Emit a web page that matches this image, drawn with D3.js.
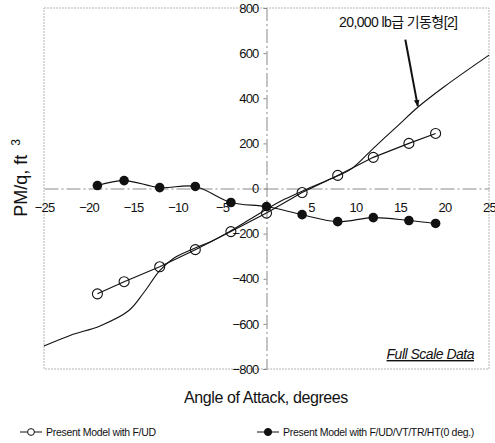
<!DOCTYPE html>
<html>
<head>
<meta charset="utf-8">
<script src="https://cdn.jsdelivr.net/npm/d3@7"></script>
<style>
  html, body { margin: 0; padding: 0; background: #fff; }
  svg { display: block; font-family: "Liberation Sans", Arial, sans-serif; }
</style>
</head>
<body>
<svg id="chart" width="495" height="443"></svg>
<script>
// Pitching moment vs. angle of attack
const alphaModel = [-19, -16, -12, -8, -4, 0, 4, 8, 12, 16, 19];
const pmBodyOnly = [-467, -413, -347, -271, -191, -109, -18, 58, 138, 200, 244];
const pmFullConfig = [13, 35, 4, 9, -62, -80, -116, -147, -129, -142, -155];

const alphaRef = [-25, -22, -18.7, -15.5, -13.8, -12, -10.5, -8.2, -6, -4, -2, 0, 2, 4, 6, 8, 9.5, 12, 14.8, 17, 20, 25];
const pmRef = [-698, -650, -609, -542, -462, -364, -311, -267, -230, -187, -140, -92, -48, -12, 22, 56, 86, 178, 280, 360, 452, 591];

const xTicks = [-25, -20, -15, -10, -5, 5, 10, 15, 20, 25];
const yTicks = [800, 600, 400, 200, 0, -200, -400, -600, -800];

const seriesLabels = ["Present Model with F/UD", "Present Model with F/UD/VT/TR/HT(0 deg.)"];
const refLabel = "20,000 lb급 기동형[2]";
const noteLabel = "Full Scale Data";

const svg = d3.select("#chart");
const x = d3.scaleLinear().domain([-25, 25]).range([44, 489]);
const y = d3.scaleLinear().domain([-800, 800]).range([369, 8]);

const axisGray = "#8a8a8a";

// plot frame
svg.append("rect")
  .attr("x", x(-25)).attr("y", y(800))
  .attr("width", x(25) - x(-25)).attr("height", y(-800) - y(800))
  .attr("fill", "none").attr("stroke", "#b5b5b5").attr("stroke-width", 1)
  .attr("stroke-dasharray", "2,1");

// axes crossing at the origin
const xAxis = d3.axisBottom(x).tickValues(xTicks).tickSize(0).tickFormat(d => d < 0 ? "\u2212" + Math.abs(d) : d);
const gx = svg.append("g").attr("transform", `translate(0,${y(0)})`).call(xAxis);
gx.select(".domain").attr("stroke", axisGray).attr("stroke-dasharray", "14,3,2,3");
gx.selectAll("text").attr("font-size", 13).attr("letter-spacing", "-0.8").attr("fill", "#111").attr("dy", "1.55em");

const yAxis = d3.axisLeft(y).tickValues(yTicks).tickSize(3).tickPadding(5).tickFormat(d => d < 0 ? "\u2212" + Math.abs(d) : d);
const gy = svg.append("g").attr("transform", `translate(${x(0)},0)`).call(yAxis);
gy.select(".domain").attr("stroke", axisGray).attr("stroke-dasharray", "14,3,2,3");
gy.selectAll(".tick line").attr("stroke", axisGray);
gy.selectAll("text").attr("font-size", 13).attr("letter-spacing", "-0.8").attr("fill", "#111");

// reference full-scale curve
const refLine = d3.line().x(d => x(d[0])).y(d => y(d[1])).curve(d3.curveCatmullRom);
svg.append("path")
  .datum(alphaRef.map((a, i) => [a, pmRef[i]]))
  .attr("d", refLine).attr("fill", "none").attr("stroke", "#111").attr("stroke-width", 1.1);

// body-only model
const bodyPts = alphaModel.map((a, i) => [a, pmBodyOnly[i]]);
svg.append("path")
  .datum(bodyPts)
  .attr("d", d3.line().x(d => x(d[0])).y(d => y(d[1])))
  .attr("fill", "none").attr("stroke", "#111").attr("stroke-width", 1.1);

// full configuration model
const fullPts = alphaModel.map((a, i) => [a, pmFullConfig[i]]);
svg.append("path")
  .datum(fullPts)
  .attr("d", d3.line().x(d => x(d[0])).y(d => y(d[1])).curve(d3.curveCatmullRom))
  .attr("fill", "none").attr("stroke", "#111").attr("stroke-width", 1.1);

svg.append("g").selectAll("circle").data(bodyPts).join("circle")
  .attr("cx", d => x(d[0])).attr("cy", d => y(d[1])).attr("r", 5)
  .attr("fill", "none").attr("stroke", "#111").attr("stroke-width", 1.1);

svg.append("g").selectAll("circle").data(fullPts).join("circle")
  .attr("cx", d => x(d[0])).attr("cy", d => y(d[1])).attr("r", 4.8)
  .attr("fill", "#111");

// annotation with arrow pointing at the reference curve
svg.append("defs").append("marker")
  .attr("id", "arrowhead").attr("viewBox", "0 0 10 10")
  .attr("refX", 9).attr("refY", 5).attr("markerWidth", 7).attr("markerHeight", 9)
  .attr("orient", "auto").attr("markerUnits", "userSpaceOnUse")
  .append("path").attr("d", "M0,1 L10,5 L0,9 Z").attr("fill", "#111");

svg.append("line")
  .attr("x1", x(15.6)).attr("y1", y(660))
  .attr("x2", x(17)).attr("y2", y(365))
  .attr("stroke", "#111").attr("stroke-width", 2)
  .attr("marker-end", "url(#arrowhead)");

svg.append("text")
  .attr("x", x(14.8)).attr("y", y(718))
  .attr("text-anchor", "middle").attr("font-size", 14).attr("letter-spacing", "-0.6")
  .attr("font-family", "'Liberation Sans', 'Noto Sans CJK KR', sans-serif")
  .attr("fill", "#111").text(refLabel);

svg.append("text")
  .attr("x", 474).attr("y", 359)
  .attr("text-anchor", "end").attr("font-size", 14).attr("font-style", "italic")
  .attr("text-decoration", "underline").attr("letter-spacing", "-0.5")
  .attr("fill", "#111").text(noteLabel);

// axis titles
svg.append("text")
  .attr("x", 266).attr("y", 403)
  .attr("text-anchor", "middle").attr("font-size", 16).attr("letter-spacing", "-0.4")
  .attr("fill", "#111").text("Angle of Attack, degrees");

const yt = svg.append("text")
  .attr("transform", "translate(27,178) rotate(-90)")
  .attr("text-anchor", "middle").attr("font-size", 18).attr("fill", "#111");
yt.append("tspan").text("PM/q, ft\u2002");
yt.append("tspan").attr("dy", "-0.6em").attr("font-size", 12).text("3");

// legend
const legend = svg.append("g").attr("transform", "translate(0,432)");
const items = [
  { x0: 20, filled: false, label: seriesLabels[0] },
  { x0: 257, filled: true, label: seriesLabels[1] }
];
items.forEach(it => {
  const g = legend.append("g").attr("transform", `translate(${it.x0},0)`);
  g.append("line").attr("x1", 0).attr("x2", 22).attr("y1", 0).attr("y2", 0)
    .attr("stroke", "#111").attr("stroke-width", 1);
  g.append("circle").attr("cx", 11).attr("cy", 0).attr("r", it.filled ? 3.6 : 3.4)
    .attr("fill", it.filled ? "#111" : "#fff").attr("stroke", "#111").attr("stroke-width", 1);
  g.append("text").attr("x", 26).attr("y", 3.5).attr("font-size", 10.5)
    .attr("letter-spacing", "-0.3").attr("fill", "#111").text(it.label);
});
</script>
</body>
</html>
